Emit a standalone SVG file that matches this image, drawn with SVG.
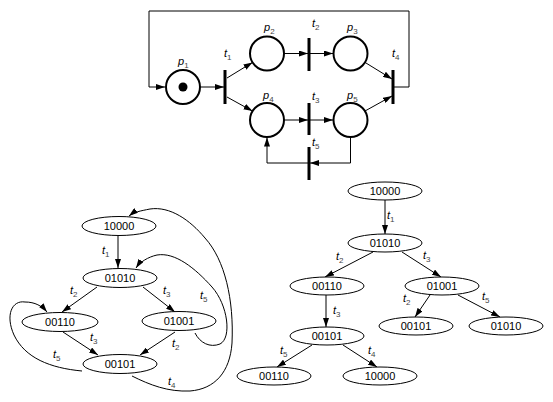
<svg xmlns="http://www.w3.org/2000/svg" width="553" height="402" viewBox="0 0 553 402">
<defs>
<marker id="ah" markerWidth="9" markerHeight="6" refX="9" refY="3" orient="auto" markerUnits="userSpaceOnUse">
<path d="M0,0 L9,3 L0,6 z" fill="#000"/>
</marker>
<style>
.pl{fill:none;stroke:#000;stroke-width:2}
.bar{stroke:#000;stroke-width:3}
.ar{fill:none;stroke:#000;stroke-width:1;marker-end:url(#ah)}
.ln{fill:none;stroke:#000;stroke-width:1}
.el{fill:#fff;stroke:#000;stroke-width:1}
.tx{font-family:"Liberation Sans",Arial,sans-serif;font-size:11px;text-anchor:middle;fill:#000}
.lb{font-family:"Liberation Sans",Arial,sans-serif;font-size:11px;font-style:italic;fill:#000}
.sb{font-size:8px;font-style:normal;fill:#444}
</style>
</defs>
<rect width="553" height="402" fill="#fff"/>

<!-- Petri net -->
<g id="petri-connectors">
<path class="ar" d="M393,87 H409 V11 H149 V87 H165"/>
<line class="ar" x1="200" y1="87" x2="224" y2="87"/>
<line class="ar" x1="227" y1="78" x2="252.5" y2="62.4"/>
<line class="ar" x1="227" y1="97" x2="252.5" y2="111.1"/>
<line class="ar" x1="284" y1="53.5" x2="308" y2="53.5"/>
<line class="ar" x1="310" y1="53.5" x2="333" y2="53.5"/>
<line class="ar" x1="365" y1="62.4" x2="392" y2="79"/>
<line class="ar" x1="365" y1="111" x2="392" y2="96"/>
<line class="ar" x1="284" y1="120" x2="308" y2="120"/>
<line class="ar" x1="310" y1="120" x2="333" y2="120"/>
<path class="ar" d="M350.5,137 V163 H310"/>
<path class="ar" d="M308,163 H267 V137.5"/>
</g>
<g id="p1"><circle class="pl" cx="183" cy="87" r="17"/><circle cx="183" cy="87" r="4.5" fill="#000"/><text class="lb" x="178" y="65">p<tspan class="sb" dy="3">1</tspan></text></g>
<g id="p2"><circle class="pl" cx="267" cy="53.5" r="17"/><text class="lb" x="264" y="31">p<tspan class="sb" dy="3">2</tspan></text></g>
<g id="p3"><circle class="pl" cx="350.5" cy="53.5" r="17"/><text class="lb" x="347" y="31">p<tspan class="sb" dy="3">3</tspan></text></g>
<g id="p4"><circle class="pl" cx="267" cy="120" r="17"/><text class="lb" x="263" y="99">p<tspan class="sb" dy="3">4</tspan></text></g>
<g id="p5"><circle class="pl" cx="350.5" cy="120" r="17"/><text class="lb" x="347" y="99">p<tspan class="sb" dy="3">5</tspan></text></g>
<g id="t1"><line class="bar" x1="225" y1="70" x2="225" y2="104"/><text class="lb" x="224" y="57">t<tspan class="sb" dy="3">1</tspan></text></g>
<g id="t2"><line class="bar" x1="309" y1="38" x2="309" y2="71"/><text class="lb" x="312" y="27">t<tspan class="sb" dy="3">2</tspan></text></g>
<g id="t3"><line class="bar" x1="309" y1="103" x2="309" y2="135"/><text class="lb" x="312" y="100">t<tspan class="sb" dy="3">3</tspan></text></g>
<g id="t4"><line class="bar" x1="393" y1="70" x2="393" y2="104"/><text class="lb" x="392" y="57">t<tspan class="sb" dy="3">4</tspan></text></g>
<g id="t5"><line class="bar" x1="309" y1="147" x2="309" y2="180"/><text class="lb" x="312" y="146">t<tspan class="sb" dy="3">5</tspan></text></g>

<!-- Reachability graph (left) -->
<g id="graph-connectors">
<line class="ar" x1="118" y1="236" x2="118" y2="268"/>
<line class="ar" x1="97" y1="287" x2="62" y2="312"/>
<line class="ar" x1="143" y1="287" x2="175" y2="312"/>
<line class="ar" x1="63" y1="332" x2="98" y2="355"/>
<line class="ar" x1="175" y1="332" x2="140" y2="355"/>
<path class="ar" d="M82,371 C50,368 25,358 14,335 C5,315 12,300 25,302 C35,302 42,306 47,312"/>
<path class="ar" d="M195,333 C200,343 210,348 220,344 C232,338 228,305 212,287 C195,268 175,252 157,255 C148,257 140,262 136,268"/>
<path class="ar" d="M132,376 C150,385 168,392 190,391 C215,389 230,372 232,343 C234,300 225,260 205,238 C190,220 170,206 150,209 C140,211 134,212 129,216"/>
<text class="lb" x="102" y="254">t<tspan class="sb" dy="3">1</tspan></text>
<text class="lb" x="70" y="294">t<tspan class="sb" dy="3">2</tspan></text>
<text class="lb" x="163" y="294">t<tspan class="sb" dy="3">3</tspan></text>
<text class="lb" x="200" y="299">t<tspan class="sb" dy="3">5</tspan></text>
<text class="lb" x="90" y="341">t<tspan class="sb" dy="3">3</tspan></text>
<text class="lb" x="172" y="347">t<tspan class="sb" dy="3">2</tspan></text>
<text class="lb" x="53" y="358">t<tspan class="sb" dy="3">5</tspan></text>
<text class="lb" x="168" y="385">t<tspan class="sb" dy="3">4</tspan></text>
</g>
<g id="g-10000"><ellipse class="el" cx="119" cy="226" rx="37" ry="9.5"/><text class="tx" x="119" y="230">10000</text></g>
<g id="g-01010"><ellipse class="el" cx="120" cy="278" rx="37" ry="9.5"/><text class="tx" x="120" y="282">01010</text></g>
<g id="g-00110"><ellipse class="el" cx="60" cy="322" rx="38" ry="9.5"/><text class="tx" x="60" y="326">00110</text></g>
<g id="g-01001"><ellipse class="el" cx="179" cy="321" rx="37" ry="9.5"/><text class="tx" x="179" y="325">01001</text></g>
<g id="g-00101"><ellipse class="el" cx="120" cy="364" rx="37" ry="9.5"/><text class="tx" x="120" y="368">00101</text></g>

<!-- Reachability tree (right) -->
<g id="tree-connectors">
<line class="ar" x1="385" y1="200" x2="385" y2="234"/>
<line class="ar" x1="373" y1="252" x2="325" y2="277"/>
<line class="ar" x1="402" y1="252" x2="441" y2="277"/>
<line class="ar" x1="326" y1="295" x2="326" y2="327"/>
<line class="ar" x1="430" y1="295" x2="415" y2="317"/>
<line class="ar" x1="458" y1="295" x2="500" y2="317"/>
<line class="ar" x1="312" y1="345" x2="277" y2="367"/>
<line class="ar" x1="343" y1="345" x2="377" y2="367"/>
<text class="lb" x="387" y="219">t<tspan class="sb" dy="3">1</tspan></text>
<text class="lb" x="336" y="260">t<tspan class="sb" dy="3">2</tspan></text>
<text class="lb" x="423" y="259">t<tspan class="sb" dy="3">3</tspan></text>
<text class="lb" x="333" y="314">t<tspan class="sb" dy="3">3</tspan></text>
<text class="lb" x="403" y="302">t<tspan class="sb" dy="3">2</tspan></text>
<text class="lb" x="482" y="300">t<tspan class="sb" dy="3">5</tspan></text>
<text class="lb" x="280" y="354">t<tspan class="sb" dy="3">5</tspan></text>
<text class="lb" x="368" y="354">t<tspan class="sb" dy="3">4</tspan></text>
</g>
<g id="r-10000"><ellipse class="el" cx="385" cy="191" rx="37" ry="9"/><text class="tx" x="385" y="195">10000</text></g>
<g id="r-01010"><ellipse class="el" cx="385" cy="243" rx="37" ry="9"/><text class="tx" x="385" y="247">01010</text></g>
<g id="r-00110"><ellipse class="el" cx="327" cy="286" rx="37" ry="9"/><text class="tx" x="327" y="290">00110</text></g>
<g id="r-01001"><ellipse class="el" cx="442" cy="286" rx="37" ry="9"/><text class="tx" x="442" y="290">01001</text></g>
<g id="r-00101a"><ellipse class="el" cx="327" cy="336" rx="37" ry="9"/><text class="tx" x="327" y="340">00101</text></g>
<g id="r-00101b"><ellipse class="el" cx="416" cy="326" rx="37" ry="9"/><text class="tx" x="416" y="330">00101</text></g>
<g id="r-01010b"><ellipse class="el" cx="506" cy="326" rx="37" ry="9"/><text class="tx" x="506" y="330">01010</text></g>
<g id="r-00110b"><ellipse class="el" cx="274" cy="376" rx="37" ry="9"/><text class="tx" x="274" y="380">00110</text></g>
<g id="r-10000b"><ellipse class="el" cx="380" cy="376" rx="37" ry="9"/><text class="tx" x="380" y="380">10000</text></g>
</svg>
